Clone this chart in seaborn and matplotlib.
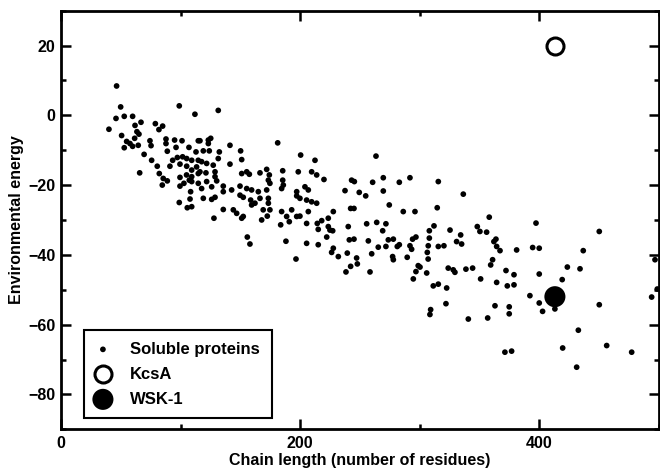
import pandas as pd
import seaborn as sns
import matplotlib.pyplot as plt
from matplotlib.ticker import MultipleLocator

# Soluble proteins: chain length vs environmental energy
chain_length = [
    46.5, 49.9, 46, 52.9, 59.9, 66.9, 61.9, 40.1, 63.5, 65.2,
    50.7, 61.6, 54.9, 57.7, 59.9, 52.9, 64.6, 74.4, 75.3, 78.9,
    85, 81.9, 98.9, 112, 87.8, 87.8, 95, 101.2, 88.9, 96.2,
    107, 114.8, 69.5, 75.8, 80.5, 93.4, 97.3, 101.7, 105.1, 109.3,
    99.5, 105.1, 91.1, 114.8, 113.4,
    65.8, 82.2, 114.8, 85.5, 88.9, 84.7, 99.5, 105, 99.5, 102.8,
    107.3, 108.4, 107.9, 98.9, 105.6, 114.8,
    131.5, 181.2, 116.2, 123.2, 125.2, 123.2, 141.3, 112.9, 119, 124,
    132.4, 150.2, 117.6, 121.8, 131.5, 151.1, 141.3, 200.4, 212.4, 127.3,
    109.3, 116.2, 121.2, 128.8, 166.4, 172, 151.1, 155.3, 157.5, 185.4,
    198.4, 209.6, 213.8, 109.3, 128.8, 174.2, 173.4, 174.7, 185.4, 109.3,
    121.8, 130.2, 135.7, 142.7, 149.7, 155.3, 159.4, 165, 172, 184.5,
    185.9, 204, 206.8, 197.1, 117.6, 126, 119, 126, 128.8, 135.7,
    149.7, 152.4, 158.6, 159.4, 162.2, 166.4, 173.4, 173.4, 197.1, 199.8,
    205.4, 209.6, 213.8, 109.3, 135.7, 144.1, 146.9, 152.4, 169.1, 172.5,
    174.7, 184.5, 188.7, 192.9, 197.1, 199.8, 206.8, 127.9, 151.1, 167.8,
    183.7, 190.9, 205.4, 214.3,
    155.8, 158, 188.1, 196.5, 205.4, 215.1, 215.1,
    263.4, 219.9, 243, 245.3, 260.6, 269.5, 282.9, 291.8, 315.5, 237.5,
    249.4, 254.8, 269.5, 274.5, 227.7, 242.2, 245, 286.2, 296, 314.6,
    223.5, 218, 223.5, 224.9, 227.2, 240.2, 255.6, 264, 271.7, 269,
    308, 311.9, 222.2, 241.1, 245, 257, 273.7, 277.9, 282.9, 294,
    296.8, 291.8, 293.2, 308, 307.1, 315.5, 227.7, 231.9, 239.4, 247.2,
    259.8, 265.3, 271.7, 281.2, 277.3, 289.5, 306.3,
    226.3, 247.8, 242.2, 238.3, 258.4, 277.9, 298.7, 300.2, 296.8, 294.6,
    305.8, 307, 311.3, 315.5, 309.1, 308.5,
    336.4, 358.1, 348.1, 350.3, 355.9, 325.3, 334.2, 330.8, 335, 320.2,
    362, 363.7, 364.3, 367.1, 381, 397.2, 394.4, 399.9, 360.9, 359.3,
    323.8, 328, 329.4, 338.6, 344.2, 372.1, 378.8, 399.9, 350.9, 364.3,
    373.2, 378.8, 322.5,
    392.1, 399.9, 402.7, 413, 321.9, 362.9, 374.8, 374.8, 340.6, 356.8,
    371.2, 376.8,
    450.1, 436.7, 423.4, 434, 419.1, 496.7, 450.1, 493.9, 498.6, 432.6,
    419.5, 456.3, 477.2, 431.2,
]
env_energy = [
    8.4, 2.4, -0.9, -0.3, -0.3, -2, -2.9, -4, -4.7, -5.4,
    -5.8, -6.6, -7.5, -8.1, -8.9, -9.3, -8.6, -7.3, -8.7, -2.4,
    -3.1, -4.1, 2.7, 0.3, -6.8, -8.1, -7.1, -7.3, -10.3, -9.2,
    -9.2, -7.3, -11.2, -12.9, -14.6, -12.9, -12.1, -11.9, -12.4, -12.9,
    -14, -14.6, -14.6, -12.9, -14.8,
    -16.5, -16.7, -16.7, -18.1, -18.8, -20, -17.8, -17.1, -20.3, -19.5,
    -18.6, -21.9, -24, -25, -26.5, -19.5,
    1.4, -7.9, -7.3, -7.1, -6.6, -8.1, -8.6, -10.5, -10.2, -10.2,
    -10.5, -10.2, -13.3, -13.8, -12.4, -12.7, -14, -11.4, -12.9, -14.3,
    -15.7, -16.2, -16.5, -16.2, -16.5, -15.5, -16.7, -16.2, -16.9, -15.9,
    -16.2, -16.2, -17.1, -17.6, -17.6, -17.1, -18.6, -19.5, -18.6, -19,
    -19, -18.8, -20.3, -21.4, -20.3, -21, -21.4, -21.9, -21.4, -21,
    -20, -20.5, -21.4, -21.9, -21, -20.5, -23.8, -24.1, -23.5, -21.9,
    -22.9, -23.5, -24.3, -25.7, -25.2, -23.8, -23.8, -25.2, -23.1, -23.8,
    -24.3, -24.8, -25.2, -26.2, -27, -27.1, -28.1, -29, -27.1, -28.9,
    -27.1, -27.6, -29, -27.1, -29, -28.9, -27.6, -29.5, -29.5, -30,
    -31.4, -30.5, -31, -31,
    -34.9, -36.9, -36.1, -41.2, -36.7, -32.7, -37.1,
    -11.7, -18.4, -18.6, -19, -19.2, -17.9, -19.2, -17.9, -19, -21.6,
    -22.1, -23.1, -21.7, -25.7, -27.6, -26.7, -26.7, -27.6, -27.6, -26.5,
    -29.5, -30.2, -31.9, -32.9, -33.1, -31.9, -31.1, -30.7, -31.1, -33.1,
    -33.1, -31.7, -34.9, -35.7, -35.5, -36, -35.7, -35.5, -37.1, -35.5,
    -34.9, -37.4, -38.4, -35.2, -37.4, -37.6, -38.1, -40.5, -39.5, -40.9,
    -39.7, -37.8, -37.6, -37.6, -40.5, -40.7, -39.3,
    -39.3, -42.6, -43.3, -44.9, -44.9, -41.4, -43.1, -43.5, -44.8, -46.9,
    -45.2, -41.2, -48.9, -48.4, -55.7, -57.1,
    -22.6, -29.2, -31.9, -33.3, -33.5, -32.9, -34.3, -36.2, -36.9, -37.4,
    -36.2, -35.5, -37.6, -38.8, -38.6, -30.9, -37.9, -38.1, -41.4, -42.9,
    -43.8, -44.3, -45, -44.1, -43.8, -44.5, -45.7, -45.5, -46.9, -47.9,
    -48.9, -48.6, -49.5,
    -51.7, -53.8, -56.2, -55.5, -54, -54.6, -54.9, -56.9, -58.4, -58.1,
    -67.9, -67.6,
    -33.3, -38.8, -43.5, -44, -47.1, -41.4, -54.3, -52.1, -49.8, -61.6,
    -66.7, -66, -67.9, -72.2,
]

kcsa_length = [413]
kcsa_energy = [20]
wsk_length = [413]
wsk_energy = [-52]

sns.set_style('ticks')
plt.rcParams['font.family'] = ['Liberation Sans', 'DejaVu Sans']
plt.rcParams['font.weight'] = 'bold'
plt.rcParams['axes.labelweight'] = 'bold'
plt.rcParams['text.color'] = 'black'
plt.rcParams['axes.labelcolor'] = 'black'

df = pd.DataFrame({'length': chain_length, 'energy': env_energy})

fig = plt.figure(figsize=(6.6, 4.72), dpi=100)
ax = fig.add_axes([0.0924, 0.0905, 0.906, 0.887])

sns.scatterplot(data=df, x='length', y='energy', s=17, color='black',
                edgecolor='none', ax=ax, label='Soluble proteins', zorder=3)
sns.scatterplot(x=kcsa_length, y=kcsa_energy, s=150, color='white',
                edgecolor='black', linewidth=2.2, ax=ax, label='KcsA', zorder=4)
sns.scatterplot(x=wsk_length, y=wsk_energy, s=230, color='black',
                edgecolor='none', ax=ax, label='WSK-1', zorder=4)

ax.set_xlim(0, 500)
ax.set_ylim(-90, 30)
ax.xaxis.set_major_locator(MultipleLocator(200))
ax.xaxis.set_minor_locator(MultipleLocator(100))
ax.yaxis.set_major_locator(MultipleLocator(20))
ax.yaxis.set_minor_locator(MultipleLocator(10))
ax.tick_params(which='both', direction='in', top=True, right=True,
               width=1.8, colors='black', labelsize=11.5)
ax.tick_params(which='major', length=7)
ax.tick_params(which='minor', length=3.5)
ax.tick_params(axis='x', which='major', pad=5)
ax.tick_params(axis='y', which='major', pad=4)
for sp in ax.spines.values():
    sp.set_linewidth(2)
    sp.set_color('black')

ax.set_xlabel('Chain length (number of residues)', fontsize=11.5, fontweight='bold',
              color='black', labelpad=1)
ax.set_ylabel('Environmental energy', fontsize=11.5, fontweight='bold',
              color='black', labelpad=3)

leg = ax.legend(loc='lower left', bbox_to_anchor=(0.0385, 0.026), borderaxespad=0,
                frameon=True, fancybox=False, edgecolor='black', framealpha=1,
                prop={'size': 12, 'weight': 'bold'}, labelspacing=0.6,
                handletextpad=1.2, borderpad=0.7, handlelength=0.87,
                labelcolor='black')
leg.get_frame().set_linewidth(1.5)

fig.savefig('out.png', dpi=100)
